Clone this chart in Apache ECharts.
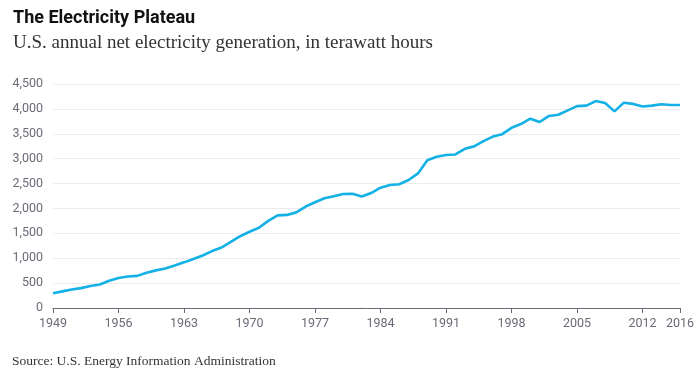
<!DOCTYPE html>
<html><head><meta charset="utf-8">
<script src="https://cdn.jsdelivr.net/npm/echarts@6/dist/echarts.min.js"></script>
<style>html,body{margin:0;padding:0;background:#fff}#c{width:700px;height:379px}</style>
</head><body><div id="c"></div>
<script>
const years = [];
for (let y = 1949; y <= 2016; y++) years.push(y);
const generation = [296,334,371,399,443,472,547,601,632,645,710,756,794,855,917,984,1055,1144,1214,1329,1442,1532,1613,1750,1861,1870,1921,2038,2124,2206,2247,2290,2295,2241,2310,2416,2470,2487,2572,2704,2967,3038,3073,3084,3197,3247,3353,3444,3492,3620,3695,3802,3737,3858,3883,3971,4055,4065,4157,4119,3950,4125,4100,4048,4066,4094,4078,4077];
const xTicks = [1949,1956,1963,1970,1977,1984,1991,1998,2005,2012,2016];

const chart = echarts.init(document.getElementById('c'));
chart.setOption({
  animation: false,
  title: [
    {text: 'The Electricity Plateau', left: 8, top: 4, textStyle: {fontFamily: 'Roboto', fontWeight: 'bold', fontSize: 18, color: '#111'}},
    {text: 'U.S. annual net electricity generation, in terawatt hours', left: 8, top: 29, textStyle: {fontFamily: 'Liberation Serif', fontWeight: 'normal', fontSize: 19, color: '#333'}},
    {text: 'Source: U.S. Energy Information Administration', left: 7, top: 349, textStyle: {fontFamily: 'Liberation Serif', fontWeight: 'normal', fontSize: 13.5, color: '#333'}}
  ],
  grid: {left: 53, right: 20, top: 84, bottom: 71, containLabel: false},
  xAxis: {
    type: 'value', min: 1949, max: 2016,
    axisLine: {show: true, lineStyle: {color: '#6b6b78', width: 1}},
    axisTick: {show: true, customValues: xTicks, length: 5, lineStyle: {color: '#6b6b78'}},
    axisLabel: {customValues: xTicks, color: '#6b6b78', fontFamily: 'Roboto', fontSize: 12.5, margin: 9,
      formatter: v => String(v)},
    splitLine: {show: false}
  },
  yAxis: {
    type: 'value', min: 0, max: 4500, interval: 500,
    axisLine: {show: false}, axisTick: {show: false},
    axisLabel: {color: '#6b6b78', fontFamily: 'Roboto', fontSize: 12.5, margin: 10,
      formatter: v => v.toLocaleString('en-US')},
    splitLine: {lineStyle: {color: '#ececec', width: 1}}
  },
  series: [{
    type: 'line', data: years.map((y, i) => [y, generation[i]]),
    symbol: 'none', lineStyle: {color: '#13b1e6', width: 2.6}, z: 3
  }]
});
</script></body></html>
